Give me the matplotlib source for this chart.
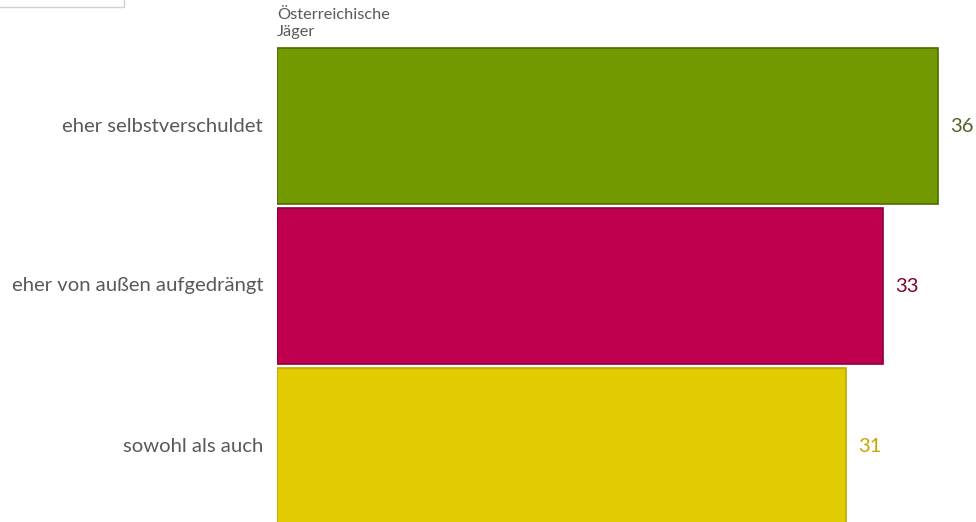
import matplotlib.pyplot as plt
from matplotlib.patches import Rectangle

categories = ["eher selbstverschuldet", "eher von außen aufgedrängt", "sowohl als auch"]
values = [36, 33, 31]
series_name = "Österreichische\nJäger"

bar_colors = ["#729a00", "#be004f", "#e0cc00"]
edge_colors = ["#4f6a00", "#8c003a", "#c4a600"]
value_colors = ["#4f6228", "#7f0034", "#c9a300"]

plt.rcParams['font.family'] = ['Lato', 'DejaVu Sans']

fig = plt.figure(figsize=(9.76, 5.22), dpi=100)
ax = fig.add_axes([277 / 976, 0, 699 / 976, 1])

px_per_unit = 661 / 36
ax.set_xlim(0, 699 / px_per_unit)
ax.set_ylim(2 + 76 / 160, -126 / 160)

ypos = list(range(len(categories)))
ax.barh(ypos, values, height=156 / 160, color=bar_colors,
        edgecolor=edge_colors, linewidth=1.2)

for y, v, c in zip(ypos, values, value_colors):
    ax.text(v + 12 / px_per_unit, y, str(v), color=c, fontsize=14.5,
            va='center', ha='left')

for y, lab in zip(ypos, categories):
    ax.text(-14 / px_per_unit, y, lab, color="#595959", fontsize=14.6,
            va='center', ha='right')

ax.text(0, -0.7875 + 8 / 160, series_name, color="#595959", fontsize=11.8,
        va='top', ha='left', linespacing=1.3)

ax.axis('off')

# partial legend box at the top-left corner
fig.patches.append(Rectangle((-5 / 976, 1 - 7 / 522), 129 / 976, 20 / 522,
                             transform=fig.transFigure, fill=False,
                             edgecolor="#d0d0d0", linewidth=1))

fig.savefig("out.png", dpi=100)
